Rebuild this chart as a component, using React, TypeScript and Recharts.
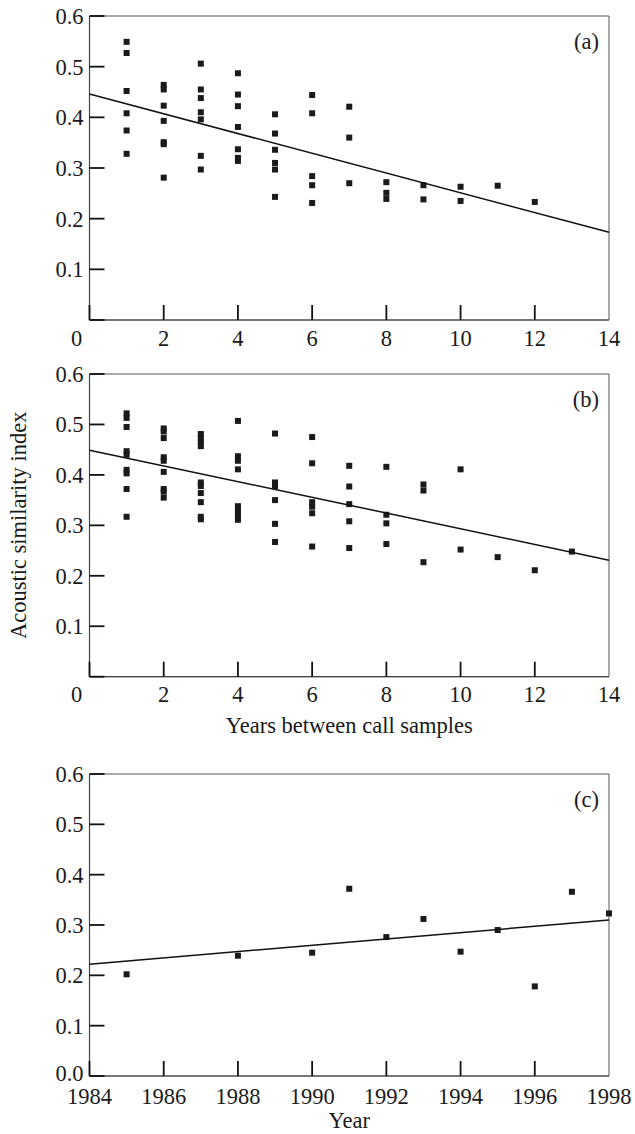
import { ScatterChart, Scatter, XAxis, YAxis, ReferenceArea } from 'recharts';

const FONT = '"Liberation Serif", "Times New Roman", serif';
const INK = '#1a1a1a';
const FS = 22.5;

// (a) years between call samples vs similarity
const gapsA = [1, 2, 3, 4, 5, 6, 7, 8, 9, 10, 11, 12];
const simA = [
  [0.549, 0.527, 0.452, 0.408, 0.374, 0.328],
  [0.464, 0.455, 0.423, 0.393, 0.351, 0.347, 0.281],
  [0.506, 0.455, 0.438, 0.41, 0.396, 0.324, 0.297],
  [0.487, 0.445, 0.422, 0.381, 0.337, 0.32, 0.314],
  [0.406, 0.368, 0.336, 0.31, 0.297, 0.243],
  [0.444, 0.408, 0.284, 0.266, 0.231],
  [0.421, 0.36, 0.27],
  [0.272, 0.251, 0.239],
  [0.266, 0.238],
  [0.263, 0.235],
  [0.265],
  [0.233],
];
const fitA = [
  { x: 0, y: 0.446 },
  { x: 14, y: 0.173 },
];

// (b)
const gapsB = [1, 2, 3, 4, 5, 6, 7, 8, 9, 10, 11, 12, 13];
const simB = [
  [0.522, 0.513, 0.495, 0.447, 0.44, 0.41, 0.403, 0.372, 0.317],
  [0.492, 0.486, 0.473, 0.435, 0.428, 0.406, 0.372, 0.367, 0.355],
  [0.481, 0.473, 0.465, 0.457, 0.385, 0.378, 0.364, 0.346, 0.317, 0.312],
  [0.507, 0.437, 0.428, 0.411, 0.338, 0.33, 0.321, 0.311],
  [0.482, 0.385, 0.378, 0.35, 0.303, 0.267],
  [0.475, 0.423, 0.346, 0.337, 0.324, 0.258],
  [0.418, 0.377, 0.342, 0.308, 0.255],
  [0.416, 0.321, 0.304, 0.263],
  [0.381, 0.369, 0.227],
  [0.411, 0.252],
  [0.237],
  [0.211],
  [0.248],
];
const fitB = [
  { x: 0, y: 0.449 },
  { x: 14, y: 0.231 },
];

// (c) by year
const yearsC = [1985, 1988, 1990, 1991, 1992, 1993, 1994, 1995, 1996, 1997, 1998];
const simC = [0.202, 0.239, 0.245, 0.372, 0.276, 0.312, 0.247, 0.29, 0.178, 0.366, 0.323];
const fitC = [
  { x: 1984, y: 0.222 },
  { x: 1998, y: 0.31 },
];

const gapTicks = [0, 2, 4, 6, 8, 10, 12, 14];
const yearTicks = [1984, 1986, 1988, 1990, 1992, 1994, 1996, 1998];
const simTicks = [0, 0.1, 0.2, 0.3, 0.4, 0.5, 0.6];

const toPoints = (xs: number[], ys: number[][]) =>
  xs.flatMap((x, i) => ys[i].map((y) => ({ x, y })));

const Square = (props: any) => {
  const { cx, cy } = props;
  if (cx == null || cy == null) return <g />;
  return <rect x={cx - 3} y={cy - 3} width={6} height={6} fill={INK} />;
};

const NoDot = () => <g />;

const makeYTick = (showZero: boolean) => (props: any) => {
  const { x, y, payload } = props;
  const v = payload.value as number;
  const label = v === 0 && !showZero ? '' : v.toFixed(1);
  // the 0.0 label sits just above the year labels
  const lift = v === 0 ? -3 : 0;
  return (
    <g>
      <line x1={x} x2={x + 15} y1={y} y2={y} stroke="#111" strokeWidth={1.8} />
      {label && (
        <text x={x - 6} y={y + lift} dy="0.35em" textAnchor="end" fontFamily={FONT} fontSize={FS} fill={INK}>
          {label}
        </text>
      )}
    </g>
  );
};

const makeXTick = (max: number, dy: number, shiftZero: boolean) => (props: any) => {
  const { x, y, payload } = props;
  const v = payload.value as number;
  const tx = shiftZero && v === 0 ? x - 13 : x;
  return (
    <g>
      {v !== max && <line x1={x} x2={x} y1={y} y2={y - 15} stroke="#111" strokeWidth={1.8} />}
      <text x={tx} y={y + dy} textAnchor="middle" fontFamily={FONT} fontSize={FS} fill={INK}>
        {v}
      </text>
    </g>
  );
};

type PanelProps = {
  top: number;
  height: number;
  marginTop: number;
  axisHeight: number;
  points: { x: number; y: number }[];
  fit: { x: number; y: number }[];
  xDomain: [number, number];
  xTicks: number[];
  tag: string;
  xLabel?: string;
  xLabelOffset?: number;
  yLabel?: string;
  showZero: boolean;
  tickDy: number;
};

function Panel(p: PanelProps) {
  return (
    <div style={{ position: 'absolute', left: 0, top: p.top }}>
      <ScatterChart width={635} height={p.height} margin={{ top: p.marginTop, right: 26, bottom: 0, left: 0 }}>
        <ReferenceArea
          x1={p.xDomain[0]}
          x2={p.xDomain[1]}
          y1={0}
          y2={0.6}
          fill="none"
          stroke="#555"
          strokeWidth={1}
          label={{
            value: p.tag,
            position: 'insideTopRight',
            offset: 10,
            dy: 7,
            fontFamily: FONT,
            fontSize: FS,
            fill: INK,
          }}
        />
        <XAxis
          type="number"
          dataKey="x"
          domain={p.xDomain}
          ticks={p.xTicks}
          interval={0}
          height={p.axisHeight}
          tickSize={0}
          tickMargin={0}
          tickLine={false}
          axisLine={{ stroke: '#444', strokeWidth: 1.2 }}
          tick={makeXTick(p.xDomain[1], p.tickDy, !p.showZero)}
          label={
            p.xLabel
              ? {
                  value: p.xLabel,
                  position: 'insideBottom',
                  offset: p.xLabelOffset,
                  fontFamily: FONT,
                  fontSize: FS,
                  fill: INK,
                }
              : undefined
          }
        />
        <YAxis
          type="number"
          dataKey="y"
          domain={[0, 0.6]}
          ticks={simTicks}
          interval={0}
          width={89.5}
          tickSize={0}
          tickMargin={0}
          tickLine={false}
          axisLine={{ stroke: '#444', strokeWidth: 1.2 }}
          tick={makeYTick(p.showZero)}
          label={
            p.yLabel
              ? {
                  value: p.yLabel,
                  angle: -90,
                  position: 'insideLeft',
                  offset: 18,
                  style: { textAnchor: 'middle' },
                  fontFamily: FONT,
                  fontSize: FS,
                  fill: INK,
                }
              : undefined
          }
        />
        <Scatter data={p.points} shape={Square} isAnimationActive={false} />
        <Scatter
          data={p.fit}
          shape={NoDot}
          line={{ stroke: '#111', strokeWidth: 1.5 }}
          isAnimationActive={false}
        />
      </ScatterChart>
    </div>
  );
}

export default function App() {
  return (
    <div style={{ position: 'absolute', left: 0, top: 0, width: 635, height: 1134, background: '#fff' }}>
      <Panel
        top={0}
        height={350}
        marginTop={16}
        axisHeight={30}
        points={toPoints(gapsA, simA)}
        fit={fitA}
        xDomain={[0, 14]}
        xTicks={gapTicks}
        tag="(a)"
        showZero={false}
        tickDy={25.5}
      />
      <Panel
        top={350}
        height={400}
        marginTop={24}
        axisHeight={73.3}
        points={toPoints(gapsB, simB)}
        fit={fitB}
        xDomain={[0, 14]}
        xTicks={gapTicks}
        tag="(b)"
        xLabel="Years between call samples"
        xLabelOffset={17}
        yLabel="Acoustic similarity index"
        showZero={false}
        tickDy={25.5}
      />
      <Panel
        top={750}
        height={384}
        marginTop={24}
        axisHeight={58}
        points={yearsC.map((x, i) => ({ x, y: simC[i] }))}
        fit={fitC}
        xDomain={[1984, 1998]}
        xTicks={yearTicks}
        tag="(c)"
        xLabel="Year"
        xLabelOffset={6}
        showZero={true}
        tickDy={28}
      />
    </div>
  );
}
